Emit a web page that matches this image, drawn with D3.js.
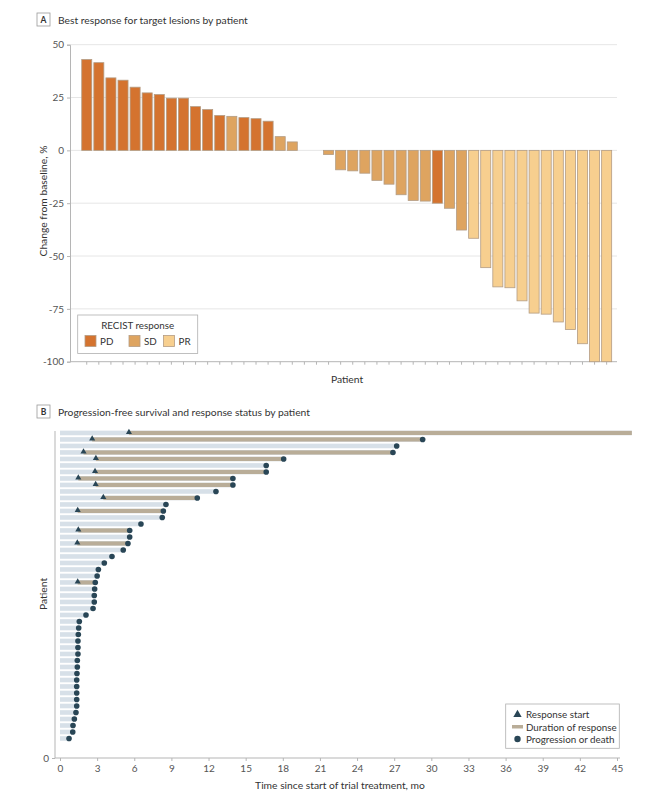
<!DOCTYPE html>
<html>
<head>
<meta charset="utf-8">
<script src="https://cdn.jsdelivr.net/npm/d3@7"></script>
<style>
  body { margin: 0; background: #fff; }
  svg { font-family: Lato, "Open Sans", sans-serif; }
</style>
</head>
<body>
<script>
// ---------- Panel A data ----------
const patientsA = d3.range(1, 45);
const changeA = [43.0, 41.5, 34.3, 33.2, 29.9, 27.2, 26.4, 24.7, 24.7, 20.7, 19.3, 16.5, 16.1, 15.5, 15.0, 13.8, 6.5, 4.0,
  null, null,
  -2.0, -9.2, -9.7, -10.8, -14.2, -16.0, -21.0, -23.7, -24.0, -25.0, -27.4, -37.7,
  -41.6, -55.5, -64.6, -65.0, -71.2, -77.0, -77.5, -81.2, -84.8, -91.5, -100, -100];
const recistA = ["PD","PD","PD","PD","PD","PD","PD","PD","PD","PD","PD","PD","SD","PD","PD","PD","SD","SD",
  null, null,
  "SD","SD","SD","SD","SD","SD","SD","SD","SD","PD","SD","SD",
  "PR","PR","PR","PR","PR","PR","PR","PR","PR","PR","PR","PR"];
const recistCats = ["PD", "SD", "PR"];
const recistColors = ["#d4732f", "#dea460", "#f7cf8f"];
const yTicksA = [50, 25, 0, -25, -50, -75, -100];

// ---------- Panel B data ----------
const pfsB = [46.2, 29.3, 27.2, 26.9, 18.07, 16.66, 16.66, 13.97, 13.97, 12.6, 11.09, 8.56, 8.35, 8.26, 6.54,
  5.63, 5.63, 5.49, 5.11, 4.2, 3.58, 3.1, 3.0, 2.85, 2.8, 2.77, 2.77, 2.67, 2.1, 1.56, 1.51, 1.48, 1.45, 1.45,
  1.45, 1.4, 1.4, 1.37, 1.35, 1.35, 1.35, 1.35, 1.35, 1.29, 1.16, 1.05, 1.03, 0.73];
const respStartB = [5.57, 2.6, null, 1.9, 2.9, null, 2.83, 1.48, 2.88, null, 3.5, null, 1.43, null, null,
  1.48, null, 1.4, null, null, null, null, null, 1.43, null, null, null, null, null, null, null, null, null, null,
  null, null, null, null, null, null, null, null, null, null, null, null, null, null];
const progressedB = pfsB.map((d, i) => i !== 0);
const xTicksB = d3.range(0, 46, 3);

const svg = d3.select("body").append("svg").attr("width", 660).attr("height", 800);

function panelTitle(letter, x, y, text) {
  svg.append("rect").attr("x", x).attr("y", y - 10).attr("width", 13).attr("height", 13)
    .attr("fill", "#fff").attr("stroke", "#9a9a9a").attr("stroke-width", 0.8);
  svg.append("text").attr("x", x + 6.5).attr("y", y).attr("text-anchor", "middle")
    .attr("font-size", 8.5).attr("font-weight", "bold").attr("fill", "#333").text(letter);
  svg.append("text").attr("x", x + 21).attr("y", y + 1).attr("font-size", 10.3).attr("fill", "#333").text(text);
}

// ================= Panel A =================
panelTitle("A", 37, 23, "Best response for target lesions by patient");

const yA = d3.scaleLinear().domain([-100, 50]).range([361.7, 44.7]);
const xA = d3.scaleBand().domain(patientsA).range([80.7, 612.7]).paddingInner(0.17).paddingOuter(0.085);
const colorA = d3.scaleOrdinal().domain(recistCats).range(recistColors);

const gA = svg.append("g");
gA.selectAll("line.grid").data(yTicksA.filter(d => d !== -100)).join("line")
  .attr("x1", 70).attr("x2", 617).attr("y1", d => yA(d)).attr("y2", d => yA(d))
  .attr("stroke", "#e6e6e6").attr("stroke-width", 1);

const yAxisA = gA.append("g").attr("transform", "translate(70,0)")
  .call(d3.axisLeft(yA).tickValues(yTicksA).tickSize(3).tickPadding(3).tickFormat(d => String(d)));
yAxisA.select(".domain").attr("stroke", "#b5b5b5");
yAxisA.selectAll(".tick line").attr("stroke", "#b5b5b5");
yAxisA.selectAll(".tick text").attr("font-size", 10).attr("fill", "#555").attr("font-family", "Lato, sans-serif");

const xAxisA = gA.append("g").attr("transform", `translate(0,${yA(-100)})`)
  .call(d3.axisBottom(xA).tickSize(3).tickFormat(""));
xAxisA.select(".domain").remove();
xAxisA.selectAll(".tick line").attr("stroke", "#b5b5b5");
gA.append("line").attr("x1", 70).attr("x2", 617).attr("y1", yA(-100)).attr("y2", yA(-100))
  .attr("stroke", "#b5b5b5");

const barData = patientsA.map((p, i) => ({ p, v: changeA[i], r: recistA[i] })).filter(d => d.v !== null);
gA.selectAll("rect.bar").data(barData).join("rect")
  .attr("x", d => xA(d.p)).attr("width", xA.bandwidth())
  .attr("y", d => d.v >= 0 ? yA(d.v) : yA(0))
  .attr("height", d => Math.abs(yA(d.v) - yA(0)))
  .attr("fill", d => colorA(d.r)).attr("stroke", "#b39c84").attr("stroke-width", 0.8);

gA.append("text").attr("x", 347).attr("y", 383).attr("text-anchor", "middle")
  .attr("font-size", 10.3).attr("fill", "#333").text("Patient");
gA.append("text").attr("transform", "translate(47,201) rotate(-90)").attr("text-anchor", "middle")
  .attr("font-size", 10.3).attr("fill", "#333").text("Change from baseline, %");

// legend A
const lgA = gA.append("g");
lgA.append("rect").attr("x", 77.7).attr("y", 315).attr("width", 120).attr("height", 38.5)
  .attr("fill", "#fff").attr("stroke", "#b0b0b0").attr("stroke-width", 0.8);
lgA.append("text").attr("x", 137.7).attr("y", 329).attr("text-anchor", "middle")
  .attr("font-size", 9.8).attr("fill", "#333").text("RECIST response");
const lgXs = [85, 129, 163.5];
recistCats.forEach((c, i) => {
  lgA.append("rect").attr("x", lgXs[i]).attr("y", 335.5).attr("width", 11).attr("height", 11)
    .attr("fill", recistColors[i]).attr("stroke", "#b39c84").attr("stroke-width", 0.8);
  lgA.append("text").attr("x", lgXs[i] + 15).attr("y", 345).attr("font-size", 9.8).attr("fill", "#333").text(c);
});

// ================= Panel B =================
panelTitle("B", 37, 415, "Progression-free survival and response status by patient");

const xB = d3.scaleLinear().domain([0, 45]).range([60, 617]);
const yB = d3.scaleLinear().domain([0, 50.3]).range([758, 431]);
const rowsB = pfsB.map((pfs, i) => ({ pos: 50 - i, pfs, rs: respStartB[i], prog: progressedB[i] }));
const gB = svg.append("g");

gB.selectAll("rect.pfs").data(rowsB).join("rect")
  .attr("x", xB(0)).attr("width", d => xB(d.pfs) - xB(0))
  .attr("y", d => yB(d.pos) - 2.3).attr("height", 4.6).attr("fill", "#d7e0e8");
gB.selectAll("rect.dur").data(rowsB.filter(d => d.rs !== null)).join("rect")
  .attr("x", d => xB(d.rs)).attr("width", d => xB(d.pfs) - xB(d.rs))
  .attr("y", d => yB(d.pos) - 2.1).attr("height", 4.2).attr("fill", "#b9ad98");
gB.selectAll("path.tri").data(rowsB.filter(d => d.rs !== null)).join("path")
  .attr("d", d3.symbol(d3.symbolTriangle).size(16))
  .attr("transform", d => `translate(${xB(d.rs)},${yB(d.pos) - 0.8})`).attr("fill", "#294656");
gB.selectAll("circle.prog").data(rowsB.filter(d => d.prog)).join("circle")
  .attr("cx", d => xB(d.pfs)).attr("cy", d => yB(d.pos)).attr("r", 2.8).attr("fill", "#294656");

// axes B
gB.append("line").attr("x1", 55).attr("x2", 55).attr("y1", 431).attr("y2", 758).attr("stroke", "#b5b5b5");
const yAxisB = gB.append("g").attr("transform", "translate(55,0)")
  .call(d3.axisLeft(yB).tickValues([0]).tickSize(3).tickPadding(3));
yAxisB.select(".domain").remove();
yAxisB.selectAll(".tick line").attr("stroke", "#b5b5b5");
yAxisB.selectAll(".tick text").attr("font-size", 10).attr("fill", "#555").attr("font-family", "Lato, sans-serif");

gB.append("line").attr("x1", 55).attr("x2", 620).attr("y1", 758).attr("y2", 758).attr("stroke", "#b5b5b5");
const xAxisB = gB.append("g").attr("transform", "translate(0,758)")
  .call(d3.axisBottom(xB).tickValues(xTicksB).tickSize(3).tickPadding(4).tickFormat(d => String(d)));
xAxisB.select(".domain").remove();
xAxisB.selectAll(".tick line").attr("stroke", "#b5b5b5");
xAxisB.selectAll(".tick text").attr("font-size", 10).attr("fill", "#555").attr("font-family", "Lato, sans-serif");

gB.append("text").attr("x", 340).attr("y", 789).attr("text-anchor", "middle")
  .attr("font-size", 10.3).attr("fill", "#333").text("Time since start of trial treatment, mo");
gB.append("text").attr("transform", "translate(47,594) rotate(-90)").attr("text-anchor", "middle")
  .attr("font-size", 10.3).attr("fill", "#333").text("Patient");

// legend B
const lgB = gB.append("g");
lgB.append("rect").attr("x", 505.7).attr("y", 704).attr("width", 113.6).attr("height", 44.3)
  .attr("fill", "#fff").attr("stroke", "#b0b0b0").attr("stroke-width", 0.8);
lgB.append("path").attr("d", d3.symbol(d3.symbolTriangle).size(30))
  .attr("transform", "translate(517.5,714.5)").attr("fill", "#294656");
lgB.append("rect").attr("x", 512).attr("y", 725).attr("width", 11).attr("height", 3.5).attr("fill", "#b9ad98");
lgB.append("circle").attr("cx", 517.5).attr("cy", 739).attr("r", 3.2).attr("fill", "#294656");
[["Response start", 718], ["Duration of response", 730.5], ["Progression or death", 743]].forEach(([t, y]) => {
  lgB.append("text").attr("x", 526).attr("y", y).attr("font-size", 9.8).attr("fill", "#333").text(t);
});
</script>
</body>
</html>
